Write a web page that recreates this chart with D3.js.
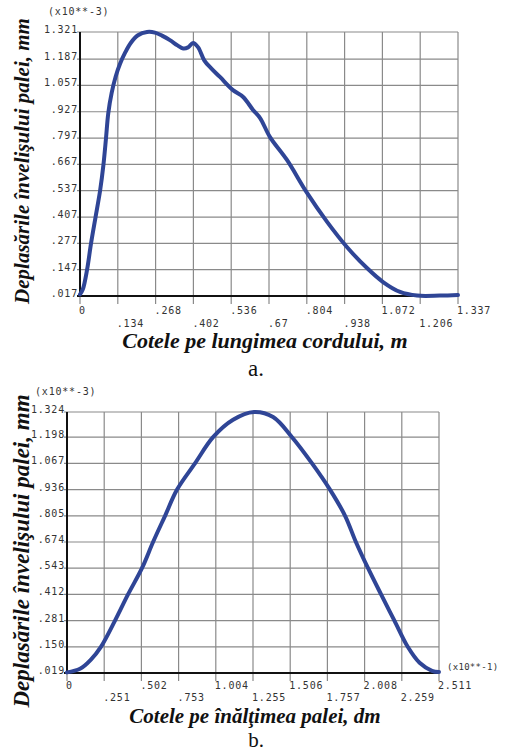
<!DOCTYPE html>
<html>
<head>
<meta charset="utf-8">
<script src="https://cdn.jsdelivr.net/npm/d3@7"></script>
<style>
  body { margin: 0; background: #fff; }
  .tick-label { font-family: "DejaVu Sans Mono", monospace; font-size: 10px; fill: #333; letter-spacing: 0.8px; }
</style>
</head>
<body>
<div id="chart"></div>
<script>
// chart a. - displacement along the chord (m)
var a_x = [0, 0.010, 0.025, 0.039, 0.055, 0.071, 0.083, 0.092, 0.100, 0.112, 0.126, 0.142, 0.160, 0.180, 0.205, 0.237, 0.265, 0.290, 0.318, 0.345, 0.365, 0.382, 0.400, 0.418, 0.440, 0.465, 0.495, 0.541, 0.577, 0.612, 0.637, 0.672, 0.732, 0.803, 0.874, 0.944, 1.015, 1.072, 1.132, 1.192, 1.273, 1.337];
var a_y = [0.025, 0.050, 0.147, 0.277, 0.407, 0.537, 0.667, 0.797, 0.920, 1.020, 1.100, 1.165, 1.220, 1.268, 1.305, 1.321, 1.318, 1.303, 1.281, 1.255, 1.240, 1.245, 1.267, 1.245, 1.180, 1.140, 1.099, 1.034, 1.000, 0.936, 0.896, 0.802, 0.689, 0.526, 0.383, 0.259, 0.155, 0.086, 0.037, 0.019, 0.019, 0.022];
var a_xticks = [0, 0.1337, 0.2674, 0.4011, 0.5348, 0.6685, 0.8022, 0.9359, 1.0696, 1.2033, 1.337];
var a_xlabels = ["0", ".134", ".268", ".402", ".536", ".67", ".804", ".938", "1.072", "1.206", "1.337"];
var a_yticks = [0.017, 0.147, 0.277, 0.407, 0.537, 0.667, 0.797, 0.927, 1.057, 1.187, 1.321];
var a_ylabels = [".017", ".147", ".277", ".407", ".537", ".667", ".797", ".927", "1.057", "1.187", "1.321"];

// chart b. - displacement along the blade height (dm, x10**-1)
var b_x = [0, 0.088, 0.160, 0.229, 0.324, 0.412, 0.506, 0.581, 0.662, 0.743, 0.864, 0.986, 1.121, 1.262, 1.391, 1.519, 1.654, 1.775, 1.877, 1.950, 2.032, 2.120, 2.210, 2.300, 2.380, 2.464, 2.511];
var b_y = [0.022, 0.040, 0.085, 0.150, 0.281, 0.412, 0.543, 0.674, 0.805, 0.936, 1.067, 1.198, 1.285, 1.324, 1.299, 1.198, 1.067, 0.936, 0.805, 0.674, 0.543, 0.412, 0.281, 0.150, 0.070, 0.030, 0.024];
var b_xticks = [0, 0.2511, 0.5022, 0.7533, 1.0044, 1.2555, 1.5066, 1.7577, 2.0088, 2.2599, 2.511];
var b_xlabels = ["0", ".251", ".502", ".753", "1.004", "1.255", "1.506", "1.757", "2.008", "2.259", "2.511"];
var b_yticks = [0.019, 0.150, 0.281, 0.412, 0.543, 0.674, 0.805, 0.936, 1.067, 1.198, 1.324];
var b_ylabels = [".019", ".150", ".281", ".412", ".543", ".674", ".805", ".936", "1.067", "1.198", "1.324"];

var serif = "'Liberation Serif', 'Times New Roman', serif";
var svg = d3.select("#chart").append("svg").attr("width", 507).attr("height", 753);

function drawChart(opt) {
    var x_scale = d3.scaleLinear().domain([opt.xt[0], opt.xt[opt.xt.length - 1]]).range([opt.left, opt.right]);
    var y_scale = d3.scaleLinear().domain([opt.yt[0], opt.yt[opt.yt.length - 1]]).range([opt.bottom, opt.top]);
    var g = svg.append("g");

    // grid, vertical lines run a bit below the axis as tick marks
    g.selectAll(".vgrid").data(opt.xt).enter().append("line")
      .attr("x1", function(d) { return x_scale(d); }).attr("x2", function(d) { return x_scale(d); })
      .attr("y1", opt.top).attr("y2", opt.bottom + 8)
      .style("stroke", "#8a8a8a").style("stroke-width", 1.2);
    g.selectAll(".hgrid").data(opt.yt).enter().append("line")
      .attr("x1", opt.left - 3).attr("x2", opt.right)
      .attr("y1", function(d) { return y_scale(d); }).attr("y2", function(d) { return y_scale(d); })
      .style("stroke", "#8a8a8a").style("stroke-width", 1.2);

    // black axes
    g.append("line").attr("x1", opt.left).attr("x2", opt.left).attr("y1", opt.top).attr("y2", opt.bottom + 1).style("stroke", "#111").style("stroke-width", 2);
    g.append("line").attr("x1", opt.left - 3).attr("x2", opt.right).attr("y1", opt.bottom).attr("y2", opt.bottom).style("stroke", "#111").style("stroke-width", 2);

    // tick labels, staggered in two rows
    g.selectAll(".ylab").data(opt.yt).enter().append("text").attr("class", "tick-label")
      .attr("text-anchor", "end").attr("x", opt.left - 2).attr("y", function(d) { return y_scale(d) + 1; })
      .text(function(d, i) { return opt.yl[i]; });
    g.selectAll(".xlab").data(opt.xt).enter().append("text").attr("class", "tick-label")
      .attr("x", function(d) { return x_scale(d) - 1; })
      .attr("y", function(d, i) { return opt.bottom + (i % 2 == 0 ? opt.row1 : opt.row2); })
      .text(function(d, i) { return opt.xl[i]; });

    g.append("text").attr("class", "tick-label").attr("x", opt.left - 32).attr("y", opt.top - 17).text("(x10**-3)");

    // the curve
    var line = d3.line().x(function(d) { return x_scale(d[0]); }).y(function(d) { return y_scale(d[1]); }).curve(d3.curveCatmullRom.alpha(0.5));
    g.append("path").datum(d3.zip(opt.xs, opt.ys)).attr("d", line)
      .style("fill", "none").style("stroke", "#2f4596").style("stroke-width", 4).style("stroke-linejoin", "round").style("stroke-linecap", "round");

    // titles
    g.append("text").attr("text-anchor", "middle")
      .attr("transform", "translate(" + opt.ytitleX + "," + opt.ytitleY + ") rotate(-90)")
      .style("font-family", serif).style("font-weight", "bold").style("font-style", "italic").style("fill", "#111")
      .style("font-size", opt.ytitleSize + "px").text("Deplasările învelişului palei, mm");
    g.append("text").attr("text-anchor", "middle")
      .attr("x", opt.xtitleX).attr("y", opt.xtitleY)
      .style("font-family", serif).style("font-weight", "bold").style("font-style", "italic").style("fill", "#111")
      .style("font-size", opt.xtitleSize + "px").text(opt.xtitle);
    g.append("text").attr("text-anchor", "middle")
      .attr("x", 256).attr("y", opt.captionY)
      .style("font-family", serif).style("fill", "#111").style("font-size", opt.captionSize + "px").text(opt.caption);
}

drawChart({xs: a_x, ys: a_y, xt: a_xticks, xl: a_xlabels, yt: a_yticks, yl: a_ylabels,
    left: 80, right: 458, top: 32, bottom: 296, row1: 18, row2: 31,
    ytitleX: 29, ytitleY: 161, ytitleSize: 21,
    xtitle: "Cotele pe lungimea cordului, m", xtitleX: 265, xtitleY: 348, xtitleSize: 22,
    caption: "a.", captionY: 376, captionSize: 23});

drawChart({xs: b_x, ys: b_y, xt: b_xticks, xl: b_xlabels, yt: b_yticks, yl: b_ylabels,
    left: 67, right: 439, top: 412, bottom: 673, row1: 16, row2: 28,
    ytitleX: 29, ytitleY: 551, ytitleSize: 23,
    xtitle: "Cotele pe înălţimea palei, dm", xtitleX: 255, xtitleY: 723, xtitleSize: 21,
    caption: "b.", captionY: 747, captionSize: 21});

svg.append("text").attr("class", "tick-label").attr("x", 447).attr("y", 670)
  .style("font-size", "9px").style("letter-spacing", "0.3px").text("(x10**-1)");
</script>
</body>
</html>
